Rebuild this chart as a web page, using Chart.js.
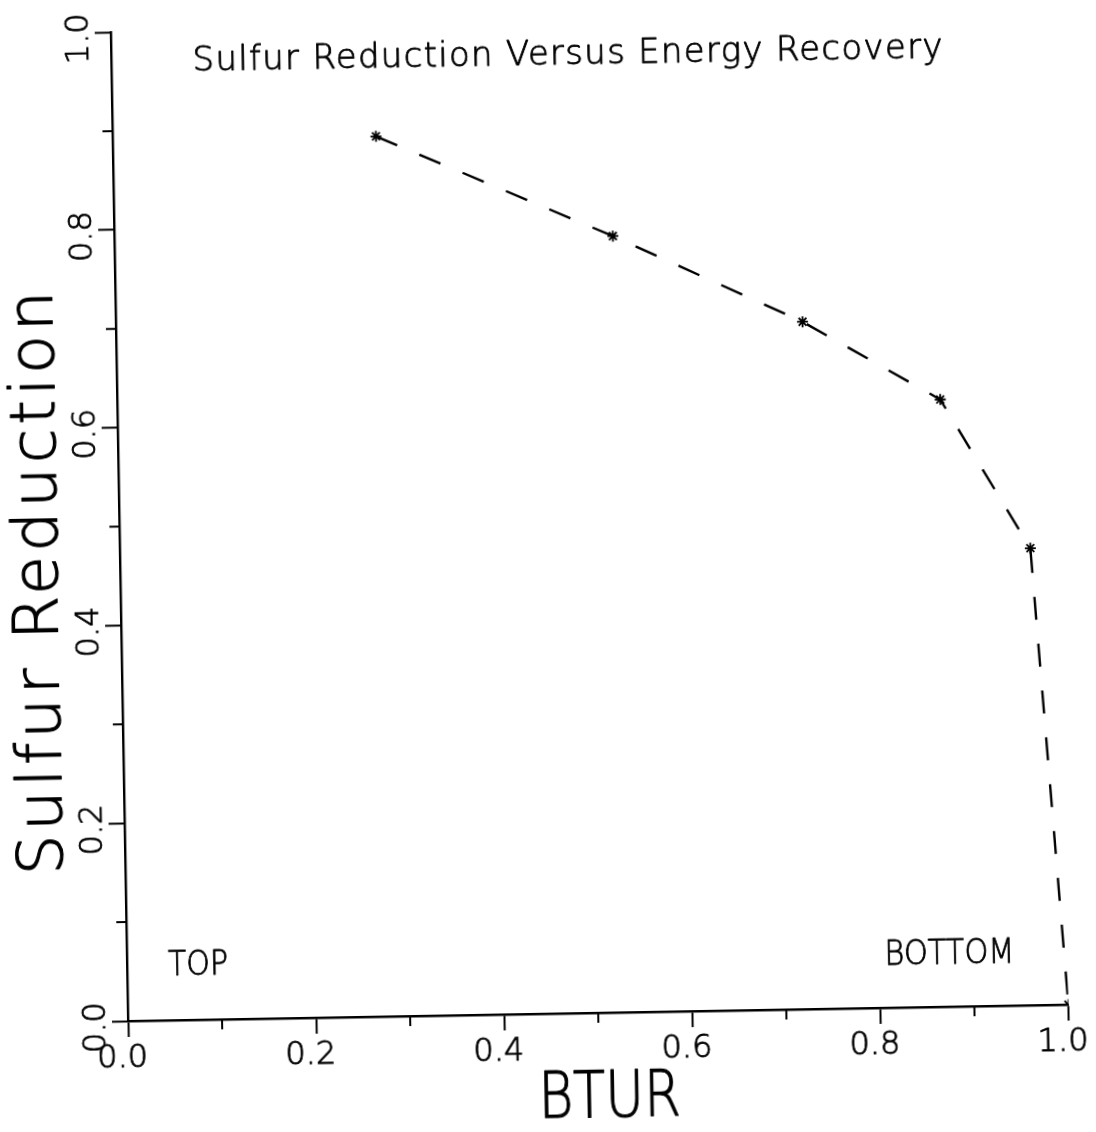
<!DOCTYPE html>
<html>
<head>
<meta charset="utf-8">
<script src="https://cdn.jsdelivr.net/npm/chart.js@4/dist/chart.umd.min.js"></script>
<style>
  html, body { margin: 0; padding: 0; background: #fff; }
  /* the plotter sheet sits slightly askew on the page */
  #sheet {
    position: absolute; left: 0; top: 0;
    width: 1096px; height: 1132px;
    transform-origin: 128px 1021px;
    transform: rotate(-1deg);
  }
  canvas { display: block; }
</style>
</head>
<body>
<div id="sheet"><canvas id="chart" width="1096" height="1132"></canvas></div>
<script>
// BTUR (energy recovery) against sulfur reduction, top-to-bottom cut points
const btur = [0.28, 0.53, 0.73, 0.875, 0.968, 1.0];
const sulfurReduction = [0.89, 0.785, 0.695, 0.614, 0.462, 0.0];

const xTickLabels = ['0.0', '0.2', '0.4', '0.6', '0.8', '1.0'];
const yTickLabels = ['0.0', '0.2', '0.4', '0.6', '0.8', '1.0'];

const chartTitle = 'Sulfur Reduction Versus Energy Recovery';
const xTitle = 'BTUR';
const yTitle = 'Sulfur Reduction';
const leftNote = 'TOP';
const rightNote = 'BOTTOM';

const INK = '#000';
const FACE = '"DejaVu Sans", sans-serif';
const MAJOR_LEN = 16;
const MINOR_LEN = 10;

const isMajor = v => Math.round(v * 10) % 2 === 0;

// draw text stretched or squeezed to a given width (left edge at x),
// with a thin outline so the light face prints like a pen stroke
function fitText(ctx, text, x, baseY, target, font, pen) {
  ctx.font = font;
  ctx.letterSpacing = '0px';
  ctx.textAlign = 'left';
  ctx.textBaseline = 'alphabetic';
  ctx.lineWidth = pen;
  ctx.lineJoin = 'round';
  const w = ctx.measureText(text).width;
  if (w < target && text.length > 1) {
    ctx.letterSpacing = ((target - w) / (text.length - 1)) + 'px';
    ctx.fillText(text, x, baseY);
    ctx.strokeText(text, x, baseY);
    ctx.letterSpacing = '0px';
  } else {
    ctx.save();
    ctx.translate(x, baseY);
    ctx.scale(target / w, 1);
    ctx.fillText(text, 0, 0);
    ctx.strokeText(text, 0, 0);
    ctx.restore();
  }
}

const decorations = {
  id: 'decorations',
  afterDraw(chart) {
    const { ctx, chartArea: a, scales: { x, y } } = chart;
    ctx.save();
    ctx.strokeStyle = INK;
    ctx.fillStyle = INK;
    ctx.lineWidth = 2;
    ctx.lineCap = 'butt';

    // short minor ticks
    ctx.beginPath();
    x.ticks.forEach(t => {
      if (!isMajor(t.value)) {
        const px = x.getPixelForValue(t.value);
        ctx.moveTo(px, a.bottom);
        ctx.lineTo(px, a.bottom + MINOR_LEN);
      }
    });
    y.ticks.forEach(t => {
      if (!isMajor(t.value)) {
        const py = y.getPixelForValue(t.value);
        ctx.moveTo(a.left, py);
        ctx.lineTo(a.left - MINOR_LEN, py);
      }
    });
    ctx.stroke();

    // rotated y tick labels
    ctx.font = '200 32px ' + FACE;
    ctx.textAlign = 'center';
    ctx.textBaseline = 'alphabetic';
    ctx.lineWidth = 0.8;
    y.ticks.forEach(t => {
      if (isMajor(t.value)) {
        const py = y.getPixelForValue(t.value);
        const label = yTickLabels[Math.round(t.value * 5)];
        ctx.save();
        ctx.translate(a.left - 23, py + 6);
        ctx.rotate(-Math.PI / 2);
        ctx.fillText(label, 0, 0);
        ctx.strokeText(label, 0, 0);
        ctx.restore();
      }
    });

    // chart title
    fitText(ctx, chartTitle, a.left + (a.right - a.left) / 2 - 14 - 375, a.top + 40, 750, '200 34px ' + FACE, 0.8);

    // x axis title
    fitText(ctx, xTitle, a.left + (a.right - a.left) / 2 + 10 - 71, a.bottom + 104, 142, '200 64px ' + FACE, 1.1);

    // y axis title
    ctx.save();
    ctx.translate(65, a.top + (a.bottom - a.top) / 2 + 55);
    ctx.rotate(-Math.PI / 2);
    fitText(ctx, yTitle, -292, 0, 584, '200 63px ' + FACE, 1.1);
    ctx.restore();

    // corner notes
    fitText(ctx, leftNote, a.left + 41, a.bottom - 45, 60, '200 34px ' + FACE, 0.8);
    fitText(ctx, rightNote, a.right - 183, a.bottom - 43, 130, '200 34px ' + FACE, 0.8);

    ctx.restore();
  }
};

const axisCommon = {
  type: 'linear',
  min: 0,
  max: 1,
  border: { display: true, color: INK, width: 2.4 },
  grid: {
    display: true,
    drawOnChartArea: false,
    drawTicks: true,
    tickLength: MAJOR_LEN,
    tickWidth: 2,
    tickColor: c => (c.tick && isMajor(c.tick.value)) ? INK : 'rgba(0,0,0,0)'
  }
};

new Chart(document.getElementById('chart'), {
  type: 'scatter',
  data: {
    datasets: [{
      data: btur.map((v, i) => ({ x: v, y: sulfurReduction[i] })),
      showLine: true,
      borderColor: INK,
      borderWidth: 2.4,
      borderDash: [23, 24],
      tension: 0,
      pointStyle: 'star',
      pointRadius: 5.5,
      pointBorderWidth: 1.8,
      pointBorderColor: INK,
      pointBackgroundColor: INK
    }]
  },
  options: {
    responsive: false,
    animation: false,
    layout: { padding: { top: 32, right: 27, left: 0, bottom: 0 } },
    plugins: { legend: { display: false }, tooltip: { enabled: false }, title: { display: false } },
    scales: {
      x: {
        ...axisCommon,
        position: 'bottom',
        ticks: {
          stepSize: 0.1,
          autoSkip: false,
          maxRotation: 0,
          minRotation: 0,
          padding: 2,
          labelOffset: -6,
          color: INK,
          textStrokeColor: INK,
          textStrokeWidth: 0.8,
          font: { family: FACE, size: 32, weight: '200' },
          callback: v => isMajor(v) ? xTickLabels[Math.round(v * 5)] : ''
        },
        afterFit: s => { s.height = 111; }
      },
      y: {
        ...axisCommon,
        position: 'left',
        ticks: {
          stepSize: 0.1,
          autoSkip: false,
          display: false
        },
        afterFit: s => { s.width = 128; }
      }
    }
  },
  plugins: [decorations]
});
</script>
</body>
</html>
